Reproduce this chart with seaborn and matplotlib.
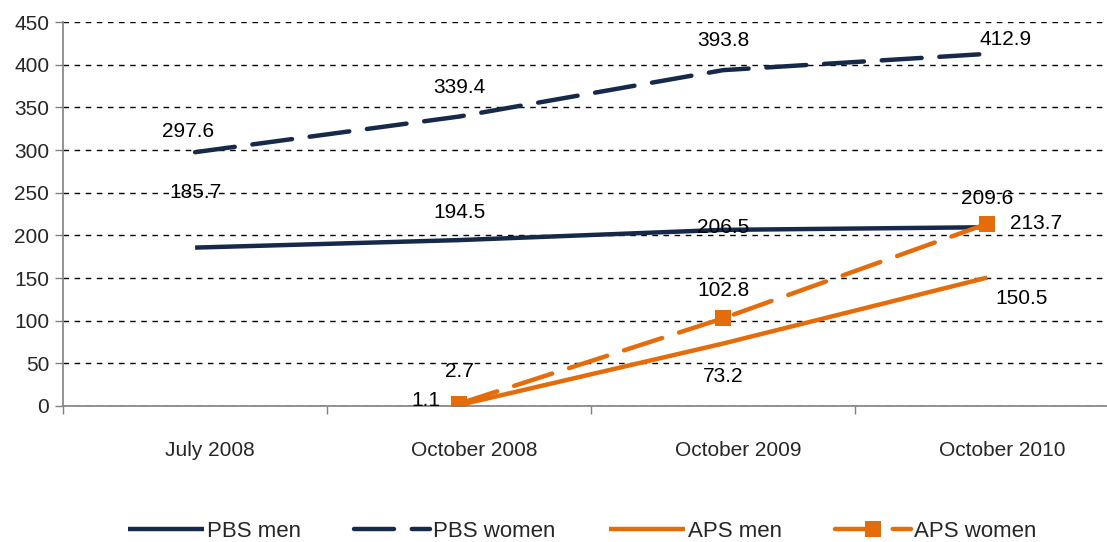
import numpy as np
import pandas as pd
import matplotlib
matplotlib.use("Agg")
import matplotlib.pyplot as plt
import matplotlib.transforms as mtransforms
import seaborn as sns

categories = ["July 2008", "October 2008", "October 2009", "October 2010"]
pbs_men = [185.7, 194.5, 206.5, 209.6]
pbs_women = [297.6, 339.4, 393.8, 412.9]
aps_men = [np.nan, 1.1, 73.2, 150.5]
aps_women = [np.nan, 2.7, 102.8, 213.7]

sns.set_theme(style="white")
plt.rcParams["font.family"] = ["Liberation Sans", "DejaVu Sans"]

NAVY = "#17294a"
ORANGE = "#e46c0a"
FS = 15

fig = plt.figure(figsize=(11.07, 5.42), dpi=100)
ax = fig.add_axes([0.057, 0.251, 0.954, 0.708])

x = np.arange(len(categories))
series = [
    ("PBS men", pbs_men, NAVY, None, None),
    ("PBS women", pbs_women, NAVY, (9, 4), None),
    ("APS men", aps_men, ORANGE, None, None),
    ("APS women", aps_women, ORANGE, (9, 4), "s"),
]
line_handles = []
for name, vals, col, dash, mk in series:
    df = pd.DataFrame({"x": x, "y": vals}).dropna()
    kw = dict(color=col, linewidth=3.2, ax=ax, legend=False)
    if mk:
        kw["marker"] = mk
        kw["markersize"] = 12
        kw["markeredgewidth"] = 0
    sns.lineplot(data=df, x="x", y="y", **kw)
    line = ax.get_lines()[-1]
    line.set_label(name)
    line.set_solid_capstyle("butt")
    line.set_dash_capstyle("round")
    if dash is not None:
        line.set_dashes(dash)
    line_handles.append(line)

# data labels (offsets in points)
offsets = {
    "PBS men": [(0, 40), (0, 20), (0, 2), (0, 21)],
    "PBS women": [(-5, 15), (0, 21), (0, 21), (13, 10)],
    "APS men": [None, (-24, 3), (0, -24), (25, -15)],
    "APS women": [None, (0, 23), (0, 20), (35, 0)],
}
for name, vals, col, dash, mk in series:
    for i, v in enumerate(vals):
        if np.isnan(v):
            continue
        off = offsets[name][i]
        if off is None:
            continue
        ax.annotate(f"{v:.1f}", (x[i], v), xytext=off, textcoords="offset points",
                    ha="center", va="center", fontsize=FS, color="black")

ax.set_xlim(-0.5, 3.5)
ax.set_ylim(0, 450)
ax.set_yticks(np.arange(0, 451, 50))
ax.set_xticks(x)
ax.set_xticklabels(categories)
ax.set_xticks(np.arange(-0.5, 3.6, 1), minor=True)
ax.tick_params(axis="x", which="major", length=0, pad=25, labelsize=FS)
ax.tick_params(axis="x", which="minor", length=6, width=1, color="#808080", direction="out", bottom=True)
ax.tick_params(axis="y", length=6, width=1, color="#808080", direction="out", labelsize=FS, pad=4, left=True)
shift = mtransforms.ScaledTranslation(0.15, 0, fig.dpi_scale_trans)
for lbl in ax.get_xticklabels():
    lbl.set_transform(lbl.get_transform() + shift)
ax.set_xlabel("")
ax.set_ylabel("")
ax.grid(axis="y", color="black", linestyle=(0, (4, 4)), linewidth=1)
ax.set_axisbelow(True)
for s in ["top", "right"]:
    ax.spines[s].set_visible(False)
for s in ["left", "bottom"]:
    ax.spines[s].set_color("#808080")
    ax.spines[s].set_linewidth(1.2)

fig.legend(line_handles, [s[0] for s in series], loc="center", bbox_to_anchor=(0.526, 0.02),
           ncol=4, frameon=False, fontsize=FS + 1, handlelength=3.4,
           columnspacing=2.4, handletextpad=0.15)

fig.savefig("out.png", dpi=100)
